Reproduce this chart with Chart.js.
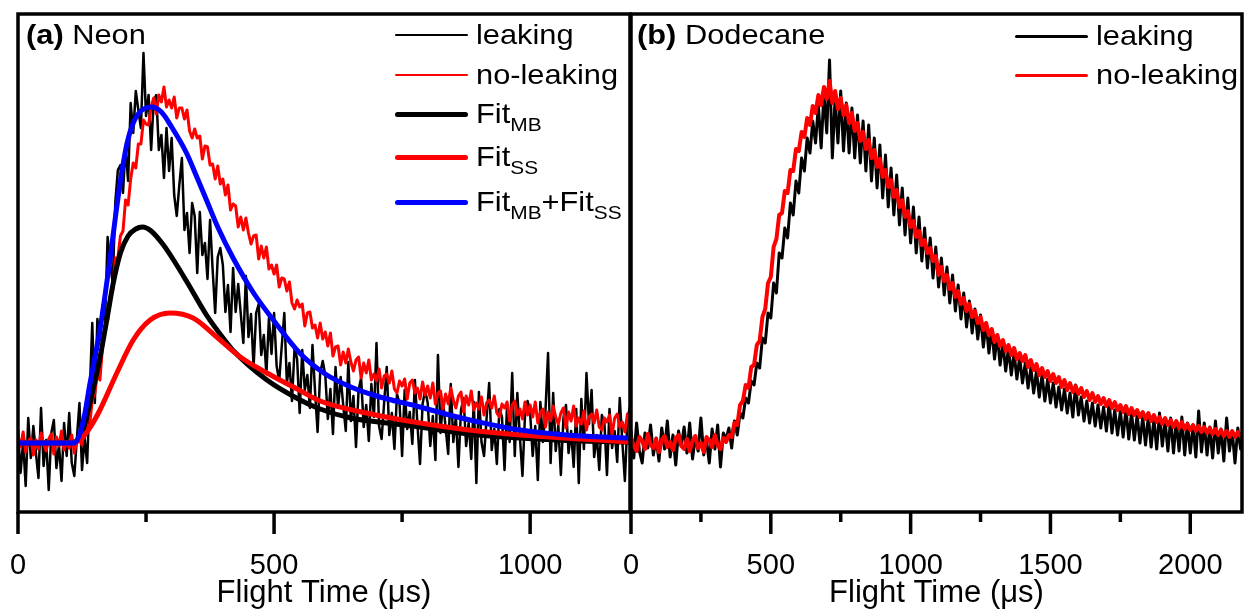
<!DOCTYPE html>
<html><head><meta charset="utf-8">
<script src="https://cdn.jsdelivr.net/npm/chart.js@4.4.1/dist/chart.umd.min.js"></script>
<style>
html,body{margin:0;padding:0;background:#fff;}
#wrap{position:relative;width:1244px;height:612px;overflow:hidden;font-family:"Liberation Sans",Arial,sans-serif;color:#000;}
canvas{position:absolute;top:0;}
#ca{left:0;} #cb{left:620px;}
.ttl{position:absolute;font-size:28px;line-height:34px;white-space:nowrap;transform:scaleX(1.1);transform-origin:left center;}
.ttl b{font-weight:bold;}
.row{position:absolute;height:34px;display:flex;align-items:center;white-space:nowrap;}
.row i{display:inline-block;width:73px;border-radius:3px;}
.row span{font-size:28px;line-height:34px;margin-left:8px;display:inline-block;transform:scaleX(1.1);transform-origin:left center;}
.row sub{font-size:19px;vertical-align:-8px;line-height:0;}
</style></head>
<body>
<div id="wrap">
<canvas id="ca" width="640" height="612"></canvas>
<canvas id="cb" width="624" height="612"></canvas>
<div class="ttl" style="left:26px;top:18px;"><b>(a)</b> Neon</div>
<div class="ttl" style="left:637px;top:18px;"><b>(b)</b> Dodecane</div>
<div id="legA"></div>
<div id="legB"></div>
</div>
<script>
// ---------- data (signal in arbitrary units, baseline = 0) ----------
// Panel (a) Neon : raw traces sampled every 5 us
const stepA = 5;
const leakA = [
 13,-30,1,-43,25,-15,17,-10,-35,35,-23,3,-47,10,23,-25,-2,-38,20,-13,
 30,-20,-33,5,40,-27,5,-20,50,120,40,124,103,138,124,206,179,160,241,273,
 278,250,296,262,340,310,352,333,315,390,327,348,293,343,348,293,308,265,315,272,
 305,248,227,258,285,213,230,190,240,227,170,231,188,200,164,223,174,130,186,195,
 178,131,158,111,175,131,159,129,100,167,106,129,76,130,139,88,108,69,125,89,
 130,77,62,97,130,60,80,42,95,84,30,93,53,68,35,98,52,11,70,82,
 68,24,54,9,76,35,66,38,12,81,22,47,-4,53,65,16,38,2,59,26,
 100,17,4,41,76,8,30,-6,49,40,-13,53,14,31,-1,63,18,-21,39,53,
 40,-3,27,-17,88,10,42,15,-11,59,1,26,-24,33,45,-3,20,-16,41,-40,
 51,1,-13,25,60,-7,14,-21,34,26,-27,39,1,70,-13,50,6,-33,28,42,
 30,-13,17,-37,41,1,33,90,-20,50,-8,18,-32,25,38,-10,12,-24,34,-40,
 44,-6,70,19,53,-14,8,-27,28,20,-32,34,-5,12,-19,45,1,-38,23,37];
const noLeakA = [
 7,-4,11,-9,2,5,-12,3,-6,10,-1,-8,4,9,-11,6,-3,12,-7,1,
 -5,8,-10,3,6,-2,21,13,19,43,50,69,63,96,117,122,147,152,185,185,
 207,212,243,238,264,280,275,299,299,323,319,318,336,345,329,348,341,356,336,343,
 335,346,325,335,335,324,333,312,305,314,305,307,284,297,296,278,279,264,277,259,
 264,248,258,233,239,237,216,226,213,225,210,199,207,208,184,197,185,196,174,178,
 169,178,156,165,164,152,161,140,134,143,136,139,117,130,131,115,118,105,120,104,
 111,97,110,87,96,97,78,91,80,94,81,72,83,86,65,80,70,83,63,69,
 62,74,55,67,69,60,72,54,50,62,57,64,44,60,63,50,55,44,61,48,
 57,45,60,39,50,52,34,49,39,55,43,35,47,51,31,47,38,52,33,40,
 34,46,28,40,43,35,47,30,26,39,35,41,22,38,42,28,34,24,41,28,
 38,26,41,20,31,34,16,31,22,37,26,19,30,35,15,31,22,37,17,25,
 19,32,13,26,29,20,33,16,13,25,21,28,8,25,29,16,21,11,29,16];
// Panel (a) fits
const mbX = [0,100,115,125,135,145,160,175,186,200,215,230,243,260,284,300,330,368,408,421,486,551,590,650,720,785,850,900,980,1100,1195];
const mbY = [0,0,2,10,28,50,85,128,160,190,207,214,216,212,198,186,161,128,100,92,63,43,34,25,20,16,11,8,5,2,1];
const ssX = [0,100,121,140,160,193,225,258,297,342,388,434,486,538,590,680,785,880,980,1100,1195];
const ssY = [0,0,3,15,33,70,103,123,130,125,106,86,70,56,42,30,20,13,8,4,1];
const sumX = [0,50,100,110,120,130,140,150,160,170,180,190,200,213,225,240,261,280,300,329,350,368,390,420,460,500,550,600,650,700,785,850,900,980,1050,1100,1195];
const sumY = [0,0,0,0,8,28,58,85,113,148,185,225,262,300,320,332,336,331,316,290,265,243,216,185,150,122,90,69,56,47,36,27,21,13,9,7,5];
// Panel (b) Dodecane : raw traces sampled every 10 us
const stepB = 10;
const noLeakB = [5,-3,-8,6,2,-6,9,-2,-5,4,
 -9,3,7,-4,1,-7,5,8,-3,-6,
 4,-8,2,7,-5,0,-9,6,3,-4,
 8,-2,-6,5,1,
 8,6,20,18,38,42,58,55,76,78,
 98,102,126,134,160,166,196,204,228,230,
 252,250,273,272,294,292,311,306,325,318,
 337,330,348,338,356,344,362,340,352,334,
 345,328,338,320,330,312,320,302,311,294,
 303,285,293,276,284,266,273,256,263,246,
 253,236,243,226,232,216,222,206,212,198,
 203,190,195,182,187,168,176,162,168,154,
 160,146,152,139,145,132,139,126,132,120,
 126,113,120,108,114,101,108,97,103,92,
 98,88,95,84,90,82,88,76,83,73,
 79,68,75,66,72,62,69,60,66,56,
 63,53,60,51,57,49,55,46,52,43,
 50,41,47,39,45,37,43,35,41,33,
 38,31,37,29,35,28,33,26,31,24,
 30,22,28,21,26,19,25,18,23,16,
 22,15,21,14,19,13,18,12,17,11,
 16,10,15,9,14,8,13,7,12,6,
 12,6,11,7];
const leakB = [12,-15,20,-8,-20,10,-5,18,-12,5,
 -18,15,-6,22,-14,8,-22,12,-3,16,
 -10,20,-16,6,-8,25,-12,3,-20,14,
 -6,18,-24,10,4,
 15,-5,22,8,30,25,45,40,62,58,
 80,75,105,100,130,125,160,150,190,185,
 215,205,240,228,262,250,285,272,305,290,
 322,300,338,295,350,310,383,285,345,300,
 352,292,340,290,335,285,328,280,322,272,
 318,262,305,255,298,245,288,236,275,228,
 268,218,255,208,245,200,236,190,226,182,
 215,175,205,165,196,156,185,148,176,140,
 168,132,158,124,150,116,142,110,134,104,
 128,96,120,90,114,84,108,78,100,72,
 95,68,90,64,86,60,80,55,75,50,
 72,46,68,42,64,40,60,36,56,33,
 54,30,50,26,58,28,46,22,42,20,
 40,17,38,15,36,12,40,10,33,8,
 32,6,34,4,30,3,28,0,26,-2,
 27,-4,24,-6,30,-3,22,-8,25,-10,
 22,-8,26,-12,20,-10,18,-14,32,-9,
 20,-12,16,-15,22,-10,14,-18,25,-8,
 12,-20,15,-6];
// axes
const xMaxA = 1195, xMaxB = 2185;
const ticksA = [0,500,1000], minorA = [250,750];
const ticksB = [0,500,1000,1500,2000], minorB = [250,750,1250,1750];
const yMin = -69, yMax = 429;
const xTitle = 'Flight Time (\u03BCs)';

// ---------- helpers ----------
const timeA = leakA.map((_, i) => i * stepA);
const timeB = leakB.map((_, i) => i * stepB);
const pts = (xs, ys) => ys.map((y, i) => ({x: xs[i], y}));

Chart.defaults.font.family = '"Liberation Sans", Arial, sans-serif';
Chart.defaults.color = '#000';

const framePlugin = {
  id: 'frame',
  afterDraw(chart, args, opts) {
    const {ctx, chartArea: a} = chart;
    const x = chart.scales.x;
    ctx.save();
    ctx.strokeStyle = '#000';
    ctx.lineWidth = 3.5;
    ctx.strokeRect(a.left, a.top, a.right - a.left, a.bottom - a.top);
    ctx.beginPath();
    opts.majors.forEach(v => { const p = x.getPixelForValue(v); ctx.moveTo(p, a.bottom); ctx.lineTo(p, a.bottom + 22); });
    opts.minors.forEach(v => { const p = x.getPixelForValue(v); ctx.moveTo(p, a.bottom); ctx.lineTo(p, a.bottom + 10); });
    ctx.stroke();
    ctx.restore();
  }
};

function options(xMax, majors, minors, padL, padR) {
  return {
    responsive: false, animation: false, devicePixelRatio: 1,
    layout: {padding: {left: padL, right: padR, top: 14, bottom: 0}},
    elements: {point: {radius: 0}, line: {borderJoinStyle: 'round', borderCapStyle: 'round'}},
    plugins: {legend: {display: false}, tooltip: {enabled: false}, frame: {majors, minors}},
    scales: {
      x: {
        type: 'linear', min: 0, max: xMax,
        afterBuildTicks: s => { s.ticks = majors.map(v => ({value: v})); },
        afterFit: s => { s.height = 100; },
        grid: {display: false, drawTicks: true, tickLength: 37},
        border: {display: false},
        ticks: {font: {size: 29}, color: '#000', padding: 0, maxRotation: 0, autoSkip: false, callback: v => String(v)},
        title: {display: true, text: xTitle, font: {size: 31}, color: '#000', padding: {top: 0, bottom: 0}}
      },
      y: {display: false, min: yMin, max: yMax}
    }
  };
}

const dsA = [
  {label: 'leaking', legendHtml: 'leaking', data: pts(timeA, leakA), borderColor: '#000000', borderWidth: 2.5, order: 4, legW: 2},
  {label: 'no-leaking', legendHtml: 'no-leaking', data: pts(timeA, noLeakA), borderColor: '#ff0000', borderWidth: 3, order: 3, legW: 2},
  {label: 'Fit_MB', legendHtml: 'Fit<sub>MB</sub>', data: pts(mbX, mbY), borderColor: '#000000', borderWidth: 5, cubicInterpolationMode: 'monotone', order: 2, legW: 5},
  {label: 'Fit_SS', legendHtml: 'Fit<sub>SS</sub>', data: pts(ssX, ssY), borderColor: '#ff0000', borderWidth: 5, cubicInterpolationMode: 'monotone', order: 1, legW: 5},
  {label: 'Fit_MB+Fit_SS', legendHtml: 'Fit<sub>MB</sub>+Fit<sub>SS</sub>', data: pts(sumX, sumY), borderColor: '#0000ff', borderWidth: 5, cubicInterpolationMode: 'monotone', order: 0, legW: 5}
];
const dsB = [
  {label: 'leaking', legendHtml: 'leaking', data: pts(timeB, leakB), borderColor: '#000000', borderWidth: 3, order: 1, legW: 3},
  {label: 'no-leaking', legendHtml: 'no-leaking', data: pts(timeB, noLeakB), borderColor: '#ff0000', borderWidth: 4, order: 0, legW: 3}
];

const chartA = new Chart(document.getElementById('ca'), {type: 'line', data: {datasets: dsA}, options: options(xMaxA, ticksA, minorA, 18, 10), plugins: [framePlugin]});
const chartB = new Chart(document.getElementById('cb'), {type: 'line', data: {datasets: dsB}, options: options(xMaxB, ticksB, minorB, 11, 2), plugins: [framePlugin]});

function buildLegend(chart, el, left, rowsY) {
  chart.data.datasets.forEach((ds, i) => {
    const row = document.createElement('div');
    row.className = 'row';
    row.style.left = left + 'px';
    row.style.top = (rowsY[i] - 17) + 'px';
    const ln = document.createElement('i');
    ln.style.height = ds.legW + 'px';
    ln.style.background = ds.borderColor;
    const tx = document.createElement('span');
    tx.innerHTML = ds.legendHtml;
    row.appendChild(ln); row.appendChild(tx);
    el.appendChild(row);
  });
}
buildLegend(chartA, document.getElementById('legA'), 395, [35, 75, 114, 157, 202]);
buildLegend(chartB, document.getElementById('legB'), 1015, [36, 75]);
</script>
</body></html>
